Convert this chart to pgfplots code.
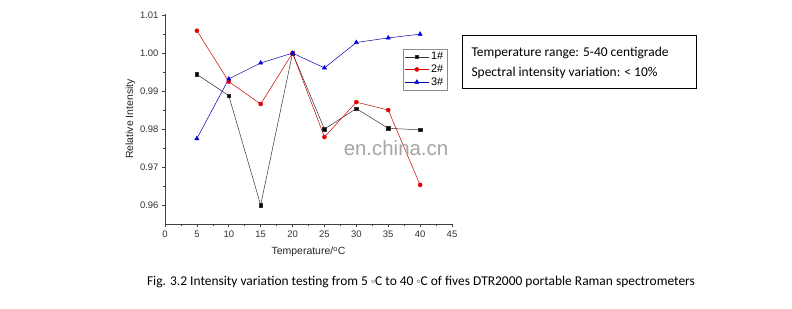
\documentclass[border=0pt]{standalone}
\usepackage{fontspec}
\setmainfont{Carlito}
\newfontfamily\arial{Liberation Sans}
\usepackage{pgfplots}
\pgfplotsset{compat=1.18}
\begin{document}
\begin{tikzpicture}
\fill[white] (0,0) rectangle (792bp,309bp);
\useasboundingbox (0,0) rectangle (792bp,309bp);
\begin{axis}[
  at={(165bp,85bp)}, anchor=origin,
  scale only axis, width=287bp, height=210bp,
  xmin=0, xmax=45, ymin=0.955, ymax=1.0103,
  axis x line*=bottom, axis y line*=left,
  axis line style={-, line width=0.8pt, black!75},
  xtick={0,5,...,45},
  ytick={0.96,0.97,0.98,0.99,1.00,1.01},
  minor x tick num=1, minor y tick num=1,
  tick align=outside,
  major tick length=3bp, minor tick length=2bp,
  tick style={black!75, line width=0.6pt},
  /pgf/number format/assume math mode=true,
  yticklabel style={/pgf/number format/fixed, /pgf/number format/precision=2, /pgf/number format/fixed zerofill},
  ticklabel style={font=\arial\fontsize{9.5}{11}\selectfont, black!80},
  xlabel={Temperature/\textsuperscript{o}C},
  ylabel={Relative Intensity},
  label style={font=\arial\fontsize{10.5}{12}\selectfont, black!85},
  xlabel style={yshift=-3bp},
  ylabel style={yshift=-2bp},
  legend style={at={(0.829,0.835)}, anchor=north west, draw=black!45,
    font=\arial\fontsize{11}{13}\selectfont, inner sep=1.5pt,
    row sep=-0.5pt, fill=white},
  legend image code/.code={\draw[mark repeat=2,mark phase=2,#1] plot coordinates {(0bp,0bp)(12bp,0bp)(24bp,0bp)};},
  legend cell align=left,
  every axis plot/.append style={line width=0.5pt},
]
\addplot[black!80, mark=square*, mark size=1.8bp, mark options={fill=black}]
 coordinates {(5,0.9944)(10,0.9888)(15,0.9600)(20,1.0000)(25,0.9800)(30,0.9854)(35,0.9802)(40,0.9798)};
\addlegendentry{1\#}
\addplot[red!80!black, mark=*, mark size=2bp, mark options={fill=red!90!black, draw=red!90!black}]
 coordinates {(5,1.0059)(10,0.9925)(15,0.9866)(20,1.0000)(25,0.9779)(30,0.9871)(35,0.9850)(40,0.9653)};
\addlegendentry{2\#}
\addplot[blue!70!black, mark=triangle*, mark size=2.4bp, mark options={fill=blue!90!black, draw=blue!90!black}]
 coordinates {(5,0.9775)(10,0.9932)(15,0.9974)(20,1.0000)(25,0.9961)(30,1.0028)(35,1.0040)(40,1.0050)};
\addlegendentry{3\#}
\end{axis}
\node[font=\arial\fontsize{20.5}{24}\selectfont, text=black!35] at (396bp,161bp) {en.china.cn};
\draw[line width=0.8pt] (462bp,274bp) rectangle (696bp,221bp);
\node[anchor=west, font=\fontsize{13.5}{16}\selectfont] at (468bp,256bp) {Temperature range: 5-40 centigrade};
\node[anchor=west, font=\fontsize{13.5}{16}\selectfont] at (468bp,236bp) {Spectral intensity variation: < 10\%};
\node[font=\fontsize{13.5}{16}\selectfont] at (421bp,27bp) {Fig. 3.2 Intensity variation testing from 5 \raisebox{0.3ex}{\scriptsize$\circ$}C to 40 \raisebox{0.3ex}{\scriptsize$\circ$}C of fives DTR2000 portable Raman spectrometers};
\end{tikzpicture}
\end{document}
